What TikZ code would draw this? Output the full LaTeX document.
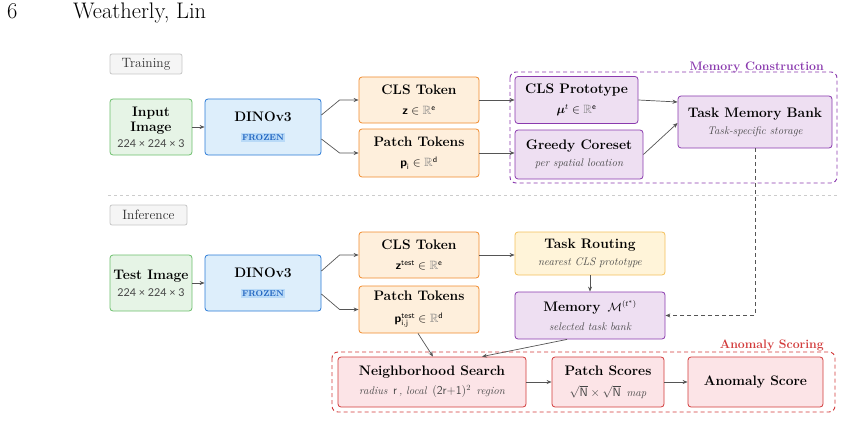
\documentclass[tikz,border=0pt]{standalone}
\usepackage{amsmath,amssymb,bm}
\usepackage{fontspec}
\newfontfamily\dimfont{Lato}
\usetikzlibrary{arrows.meta,calc}
\definecolor{gfill}{HTML}{E6F4E6}\definecolor{gdraw}{HTML}{6CBF6C}
\definecolor{bfill}{HTML}{DDEEFB}\definecolor{bdraw}{HTML}{2A7AD6}
\definecolor{ofill}{HTML}{FEEFDC}\definecolor{odraw}{HTML}{F08A2C}
\definecolor{pfill}{HTML}{EEDFF2}\definecolor{pdraw}{HTML}{8A3AAE}
\definecolor{yfill}{HTML}{FFF4D9}\definecolor{ydraw}{HTML}{F3C05A}
\definecolor{rfill}{HTML}{FCE4E7}\definecolor{rdraw}{HTML}{D23A3A}
\definecolor{subgray}{HTML}{454545}
\definecolor{arrgray}{HTML}{555555}
\definecolor{badge}{HTML}{B9DAF7}
\definecolor{badgetxt}{HTML}{1E63C0}
\newcommand{\ttl}[1]{{\fontsize{13.8}{15}\selectfont\bfseries #1}}
\newcommand{\sub}[1]{{\fontsize{11}{12}\selectfont\itshape\color{subgray}#1}}
\newcommand{\dimtxt}[1]{{\dimfont\fontsize{10.8}{12}\selectfont\color{subgray}#1}}
\newcommand{\mth}[1]{{\fontsize{12}{13}\selectfont #1}}
\newcommand{\frozen}{{\setlength{\fboxsep}{1.5pt}\colorbox{badge}{\fontsize{8.5}{9}\selectfont\bfseries\color{badgetxt}FROZEN}}}
\newcommand{\RR}{\textcolor{gray}{\mathbb{R}}}
\begin{document}
\begin{tikzpicture}[x=1pt,y=-1pt,
  box/.style={draw, rounded corners=3pt, line width=0.8pt, align=center, inner sep=2pt, font=\fontsize{11}{17}\selectfont},
  gbox/.style={box, fill=gfill, draw=gdraw},
  bbox/.style={box, fill=bfill, draw=bdraw},
  obox/.style={box, fill=ofill, draw=odraw},
  pbox/.style={box, fill=pfill, draw=pdraw},
  ybox/.style={box, fill=yfill, draw=ydraw},
  rbox/.style={box, fill=rfill, draw=rdraw},
  wide/.style={font=\fontsize{11}{20}\selectfont},
  tag/.style={draw=gray!45, fill=gray!8, rounded corners=2pt, line width=0.8pt, font=\fontsize{13.5}{15}\selectfont, text=black!80},
  arr/.style={draw=arrgray, line width=0.7pt, -{Stealth[length=5pt,width=4pt]}},
  grp/.style={dashed, line width=0.9pt, rounded corners=6pt, dash pattern=on 4pt off 3pt}
]
\useasboundingbox (0,0) rectangle (844,436);

% header
\node[anchor=base west, inner sep=0, font=\fontsize{22.5}{25}\selectfont] (pg) at (7,19) {6};
\node[anchor=base west, inner sep=0, font=\fontsize{22.5}{25}\selectfont] (au) at (73,19) {Weatherly, Lin};

% group boxes
\draw[grp, draw=pdraw] (510,72) rectangle (837,183);
\node[anchor=east, inner sep=0, text=pdraw, font=\fontsize{12.3}{14}\selectfont\bfseries] (memlbl) at (824,67) {Memory Construction};
\draw[grp, draw=rdraw] (332,352) rectangle (835,412);
\node[anchor=east, inner sep=0, text=rdraw, font=\fontsize{12.3}{14}\selectfont\bfseries] (anlbl) at (824,345) {Anomaly Scoring};

% separator
\draw[gray!40, dashed, line width=0.6pt] (108,195) -- (837,195);

% training
\node[tag, minimum width=72pt, minimum height=20pt] (train) at (146,64) {Training};
\node[gbox, minimum width=82pt, minimum height=56pt, font=\fontsize{11}{15.5}\selectfont] (in1) at (151,127) {\ttl{Input}\\\ttl{Image}\\\dimtxt{224 × 224 × 3}};
\node[bbox, minimum width=116pt, minimum height=56pt, font=\fontsize{11}{19}\selectfont] (dino1) at (263,127) {\ttl{DINOv3}\\\frozen};
\node[obox, wide, minimum width=120pt, minimum height=46pt] (cls1) at (419,100) {\ttl{CLS Token}\\\mth{$\textsf{\bfseries z}\in\RR^{\mathsf{e}}$}};
\node[obox, wide, minimum width=120pt, minimum height=48pt] (patch1) at (419,153) {\ttl{Patch Tokens}\\\mth{$\textsf{\bfseries p}_{\mathsf{i}}\in\RR^{\mathsf{d}}$}};
\node[pbox, wide, minimum width=123pt, minimum height=47pt] (proto) at (576.5,100) {\ttl{CLS Prototype}\\\mth{$\bm{\mu}^{t}\in\RR^{\mathsf{e}}$}};
\node[pbox, minimum width=128pt, minimum height=49pt] (greedy) at (579,154.5) {\ttl{Greedy Coreset}\\\sub{per spatial location}};
\node[pbox, minimum width=154pt, minimum height=52pt] (tmb) at (755,122) {\ttl{Task Memory Bank}\\\sub{Task-specific storage}};

% inference
\node[tag, minimum width=77pt, minimum height=20pt] (inf) at (148.5,215) {Inference};
\node[gbox, minimum width=82pt, minimum height=56pt] (in2) at (151,283) {\ttl{Test Image}\\\dimtxt{224 × 224 × 3}};
\node[bbox, minimum width=116pt, minimum height=56pt, font=\fontsize{11}{19}\selectfont] (dino2) at (263,283) {\ttl{DINOv3}\\\frozen};
\node[obox, wide, minimum width=120pt, minimum height=46pt] (cls2) at (419,255) {\ttl{CLS Token}\\\mth{$\textsf{\bfseries z}^{\textsf{test}}\in\RR^{\mathsf{e}}$}};
\node[obox, minimum width=120pt, minimum height=47pt, font=\fontsize{11}{22}\selectfont] (patch2) at (419,309.5) {\ttl{Patch Tokens}\\\mth{$\textsf{\bfseries p}^{\textsf{test}}_{\mathsf{i,j}}\in\RR^{\mathsf{d}}$}};
\node[ybox, minimum width=150pt, minimum height=43pt] (route) at (590,253.5) {\ttl{Task Routing}\\\sub{nearest CLS prototype}};
\node[pbox, minimum width=150pt, minimum height=47pt, font=\fontsize{11}{19}\selectfont] (mem) at (590,315.5) {\ttl{Memory}\ \ \mth{$\mathcal{M}^{(t^{*})}$}\\\sub{selected task bank}};
\node[rbox, minimum width=188pt, minimum height=50pt, font=\fontsize{11}{19}\selectfont] (ns) at (432,382) {\ttl{Neighborhood Search}\\\sub{radius \,\mth{$\mathsf{r}$}\,, local \,\mth{$(\mathsf{2r{+}1})^{2}$}\, region}};
\node[rbox, minimum width=112pt, minimum height=50pt, font=\fontsize{11}{21}\selectfont] (ps) at (608,382) {\ttl{Patch Scores}\\\sub{\mth{$\sqrt{\mathsf{N}}\times\sqrt{\mathsf{N}}$}\, map}};
\node[rbox, minimum width=135pt, minimum height=50pt] (as) at (755.5,382) {\ttl{Anomaly Score}};

% connectors (training)
\draw[arr] (in1.east) -- (dino1.west);
\draw[arr] ([yshift=12pt]dino1.east) -- ([xshift=-19pt]cls1.west) -- (cls1.west);
\draw[arr] ([yshift=-12pt]dino1.east) -- ([xshift=-19pt]patch1.west) -- (patch1.west);
\draw[arr] (cls1.east) -- (cls1.east -| proto.west);
\draw[arr] (patch1.east) -- (patch1.east -| greedy.west);
\draw[arr] (proto.east) -- ([yshift=20pt]tmb.west);
\draw[arr] (greedy.east) -- ([yshift=-1pt]tmb.west);
\draw[arr, dashed, dash pattern=on 4pt off 3pt] (tmb.south) |- (mem.east);

% connectors (inference)
\draw[arr] (in2.east) -- (dino2.west);
\draw[arr] ([yshift=12pt]dino2.east) -- ([xshift=-19pt]cls2.west) -- (cls2.west);
\draw[arr] ([yshift=-11pt]dino2.east) -- ([xshift=-19pt]patch2.west) -- (patch2.west);
\draw[arr] (cls2.east) -- (cls2.east -| route.west);
\draw[arr] (route.south) -- (mem.north);
\draw[arr] ([xshift=-1pt]patch2.south) -- ([xshift=1pt]ns.north);
\draw[arr] ([xshift=-23pt]mem.south) -- ([xshift=50pt]ns.north);
\draw[arr] (ns.east) -- (ps.west);
\draw[arr] (ps.east) -- (as.west);
\end{tikzpicture}
\end{document}
